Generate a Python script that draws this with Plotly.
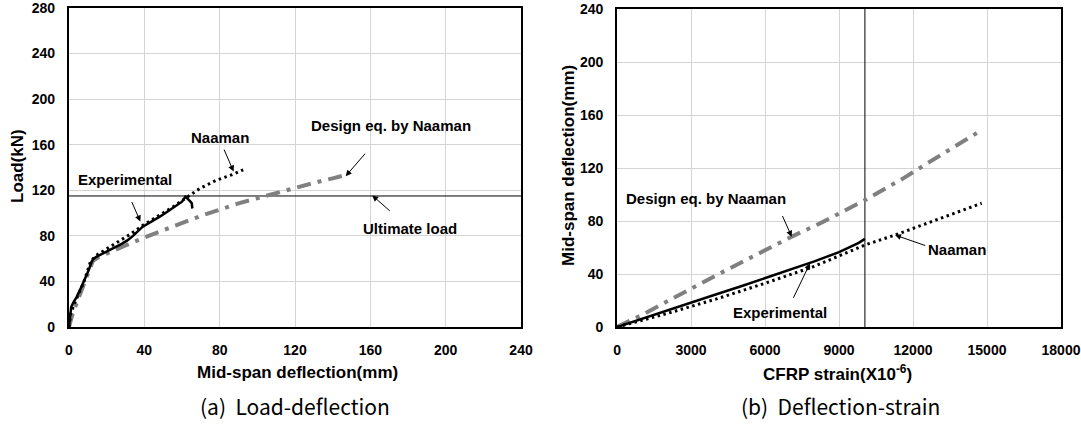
import plotly.graph_objects as go

# ---- (a) Load-deflection ----
exp_defl = [0, 0.5, 1.2, 2.5, 4, 6, 8.3, 10.5, 12, 13, 15, 18, 23, 28, 31, 34, 39, 44, 48, 52, 56, 60, 61.8, 63.5, 64.5, 65.2, 65.5]
exp_load = [0, 10, 17.6, 22, 26, 33, 41, 50, 57, 60, 62, 64.4, 68.8, 73, 76, 80, 87.8, 92.5, 96.6, 101, 105.4, 110, 114.4, 112, 110, 108.6, 104]

naa_defl = [0, 1, 2.7, 5, 8, 11.5, 14.5, 18, 21.6, 26.9, 33.1, 39.3, 48.1, 55.2, 62.3, 69.4, 78.2, 87.1, 92.5]
naa_load = [0, 12, 19.6, 28, 40, 57.7, 62.9, 66.5, 70.2, 76, 82, 89.3, 98, 105.4, 113.5, 121.5, 128.8, 134, 138]

des_defl = [0, 2, 5, 9, 12.7, 16, 20, 30, 40, 50, 62, 70, 80, 90, 100, 110, 120, 130, 140, 146]
des_load = [0, 12, 25, 43, 58, 61.5, 64.5, 71.5, 78.5, 85, 92.5, 97.5, 103, 108.5, 113, 117.8, 122.3, 126.5, 130.5, 133]

ultimate_load = 115

defl_ticks = [0, 40, 80, 120, 160, 200, 240]
load_ticks = [0, 40, 80, 120, 160, 200, 240, 280]

# ---- (b) Deflection-strain ----
exp_strain = [0, 1000, 2000, 3000, 4000, 5000, 6000, 7000, 8000, 9000, 9800, 10050]
exp_mid = [0, 6, 12, 18.3, 24.5, 30.6, 36.8, 43, 49.5, 56.5, 63.5, 66.5]

naa_strain = [0, 2000, 4000, 6000, 8000, 10054, 11270, 13000, 14784]
naa_mid = [0, 10, 21, 33, 45.8, 61.9, 69.4, 81.3, 93.4]

des_strain = [0, 1000, 2000, 4176, 7082, 8230, 10054, 11607, 12689, 14607]
des_mid = [0, 9, 19, 40.5, 68.2, 78.2, 95.8, 112.2, 124.8, 146.6]

failure_strain = 10050

strain_ticks = [0, 3000, 6000, 9000, 12000, 15000, 18000]
mid_ticks = [0, 40, 80, 120, 160, 200, 240]

FONT = "Arial, Liberation Sans, sans-serif"
GRAY = "#808080"
DASHDOT = "14px,7px,4px,7px"
DOT = "2.5px,3.5px"

fig = go.Figure()

# left panel traces
fig.add_trace(go.Scatter(x=[0, 240], y=[ultimate_load, ultimate_load], mode="lines",
                         line=dict(color="black", width=1), xaxis="x", yaxis="y"))
fig.add_trace(go.Scatter(x=des_defl, y=des_load, mode="lines",
                         line=dict(color=GRAY, width=4, dash=DASHDOT), xaxis="x", yaxis="y"))
fig.add_trace(go.Scatter(x=exp_defl, y=exp_load, mode="lines",
                         line=dict(color="black", width=2.5), xaxis="x", yaxis="y"))
fig.add_trace(go.Scatter(x=naa_defl, y=naa_load, mode="lines",
                         line=dict(color="black", width=3, dash=DOT), xaxis="x", yaxis="y"))

# right panel traces
fig.add_trace(go.Scatter(x=[failure_strain, failure_strain], y=[0, 240], mode="lines",
                         line=dict(color="black", width=1), xaxis="x2", yaxis="y2"))
fig.add_trace(go.Scatter(x=des_strain, y=des_mid, mode="lines",
                         line=dict(color=GRAY, width=4, dash=DASHDOT), xaxis="x2", yaxis="y2"))
fig.add_trace(go.Scatter(x=exp_strain, y=exp_mid, mode="lines",
                         line=dict(color="black", width=2.5), xaxis="x2", yaxis="y2"))
fig.add_trace(go.Scatter(x=naa_strain, y=naa_mid, mode="lines",
                         line=dict(color="black", width=3, dash=DOT), xaxis="x2", yaxis="y2"))

tickfont = dict(family=FONT, size=14, color="black", weight="bold")
axis_common = dict(showgrid=True, gridcolor="#d4d4d4", gridwidth=1, zeroline=False,
                   showline=True, linecolor="black", linewidth=2, mirror=True, automargin=False,
                   ticks="", tickfont=tickfont, ticklabelstandoff=9, tickmode="array",
                   ticklabeloverflow="allow")


def bold(vals):
    return ["<b>%d</b>" % v for v in vals]


fig.update_layout(
    width=1081, height=425,
    margin=dict(l=0, r=0, t=0, b=0),
    paper_bgcolor="white", plot_bgcolor="white",
    showlegend=False,
    xaxis=dict(domain=[0.0638, 0.4820], range=[0, 240], tickvals=defl_ticks, ticktext=bold(defl_ticks),
               anchor="y", **axis_common),
    yaxis=dict(domain=[0.2306, 0.9812], range=[0, 280], tickvals=load_ticks, ticktext=bold(load_ticks),
               anchor="x", **axis_common),
    xaxis2=dict(domain=[0.5708, 0.9815], range=[0, 18000], tickvals=strain_ticks, ticktext=bold(strain_ticks),
                anchor="y2", **axis_common),
    yaxis2=dict(domain=[0.2306, 0.9788], range=[0, 240], tickvals=mid_ticks, ticktext=bold(mid_ticks),
                anchor="x2", **axis_common),
)

label_font = dict(family=FONT, size=15, color="black", weight="bold")
title_font = dict(family=FONT, size=17, color="black", weight="bold")
caption_font = dict(family="Noto Sans CJK KR, sans-serif", size=21, color="black", weight="normal")

ann = []
# axis titles
ann.append(dict(text="<b>Mid-span deflection(mm)</b>", x=297 / 1081, y=1 - 372 / 425, xref="paper", yref="paper",
                showarrow=False, font=title_font, xanchor="center", yanchor="middle"))
ann.append(dict(text="<b>Load(kN)</b>", x=17 / 1081, y=1 - 166 / 425, xref="paper", yref="paper",
                showarrow=False, font=title_font, textangle=-90, xanchor="center", yanchor="middle"))
ann.append(dict(text="<b>CFRP strain(X10<sup>-6</sup>)</b>", x=837 / 1081, y=1 - 373 / 425, xref="paper", yref="paper",
                showarrow=False, font=title_font, xanchor="center", yanchor="middle"))
ann.append(dict(text="<b>Mid-span deflection(mm)</b>", x=568 / 1081, y=1 - 166 / 425, xref="paper", yref="paper",
                showarrow=False, font=title_font, textangle=-90, xanchor="center", yanchor="middle"))
# captions
ann.append(dict(text="(a)  Load-deflection", x=295 / 1081, y=1 - 406 / 425, xref="paper", yref="paper",
                showarrow=False, font=caption_font, xanchor="center", yanchor="middle"))
ann.append(dict(text="(b)  Deflection-strain", x=840 / 1081, y=1 - 406 / 425, xref="paper", yref="paper",
                showarrow=False, font=caption_font, xanchor="center", yanchor="middle"))


def label(text, x, y, xr, yr):
    return dict(text="<b>%s</b>" % text, x=x, y=y, xref=xr, yref=yr, showarrow=False, font=label_font,
                xanchor="center", yanchor="middle")


def pointer(x, y, ax, ay, xr, yr):
    return dict(text="", x=x, y=y, ax=ax, ay=ay, xref=xr, yref=yr, axref=xr, ayref=yr,
                showarrow=True, arrowhead=2, arrowsize=1.2, arrowwidth=1, arrowcolor="black")


# curve labels, left panel
ann += [
    label("Naaman", 80, 166.5, "x", "y"),
    pointer(87.4, 136.5, 82, 157, "x", "y"),
    label("Experimental", 29.7, 129.2, "x", "y"),
    pointer(37.9, 92.6, 33, 111, "x", "y"),
    label("Design eq. by Naaman", 170.7, 176.8, "x", "y"),
    pointer(146.9, 132.4, 157.9, 153.4, "x", "y"),
    label("Ultimate load", 180.8, 86.8, "x", "y"),
    pointer(161, 115.5, 171.1, 100.8, "x", "y"),
]
# curve labels, right panel
ann += [
    label("Design eq. by Naaman", 3606, 97.1, "x2", "y2"),
    pointer(7082, 68.2, 6680, 84.9, "x2", "y2"),
    label("Naaman", 13780, 58.4, "x2", "y2"),
    pointer(11270, 69.4, 12555, 61.1, "x2", "y2"),
    label("Experimental", 6620, 11.2, "x2", "y2"),
    pointer(7824, 48.1, 7122, 20.9, "x2", "y2"),
]

fig.update_layout(annotations=ann)
fig.write_html("out.html")
